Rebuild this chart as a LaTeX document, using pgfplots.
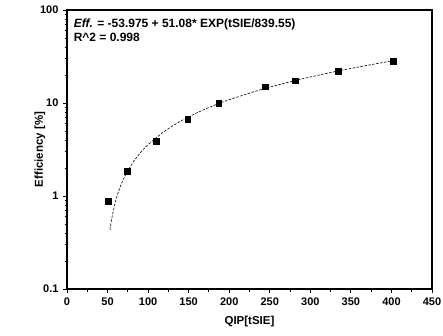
\documentclass[border=0pt]{standalone}
\usepackage{pgfplots}
\pgfplotsset{compat=1.18}
\usepackage{fontspec}
\setmainfont{Liberation Sans}
\begin{document}
\begin{tikzpicture}
\begin{axis}[
  scale only axis,
  width=365pt, height=279pt,
  xmin=0, xmax=450,
  ymode=log, ymin=0.1, ymax=100,
  xtick={0,50,...,450},
  minor x tick num=1,
  ytick={0.1,1,10,100},
  yticklabels={\textbf{0.1},\textbf{1},\textbf{10},\textbf{100}},
  xticklabel={\textbf{\pgfmathprintnumber{\tick}}},
  /pgf/number format/assume math mode=true,
  tick align=outside,
  xtick pos=left, ytick pos=left,
  major tick length=4pt, minor tick length=2.5pt,
  tick style={black, line width=0.9pt},
  axis line style={line width=1.1pt},
  ticklabel style={font=\fontsize{11}{13}\selectfont},
  yticklabel style={xshift=-1pt},
  xticklabel style={yshift=-1pt},
  xlabel={\textbf{QIP[tSIE]}},
  ylabel={\textbf{Efficiency [\%]}},
  label style={font=\fontsize{11.5}{13}\selectfont},
  xlabel style={at={(axis description cs:0.5,0)}, anchor=center, yshift=-33pt},
  ylabel style={at={(axis description cs:0,0.5)}, anchor=center, yshift=27pt},
]
\addplot[black, dash pattern=on 2.5pt off 1.5pt, line width=0.6pt, smooth] coordinates {
(53,0.434) (55,0.563) (60,0.889) (65,1.217) (70,1.547) (80,2.212) (90,2.885)
(100,3.566) (120,4.954) (140,6.374) (160,7.829) (180,9.319) (200,10.845)
(240,14.008) (280,17.326) (320,20.805) (360,24.454) (402,28.478)
};
\addplot[only marks, mark=square*, mark size=2.8pt, black] coordinates {
(51,0.88) (74,1.85) (110,3.9) (149,6.7) (187,9.9) (244,15.0) (281,17.4) (334,22.0) (402,28.0)
};
\node[anchor=north west, font=\fontsize{12}{14.5}\selectfont\bfseries, align=left, inner sep=0pt]
  at (rel axis cs:0.018,0.97) {\textit{Eff.} = -53.975 + 51.08* EXP(tSIE/839.55)\\R\^{}2 = 0.998};
\end{axis}
\pgfresetboundingbox
\path (current axis.south west) ++(-67pt,-46pt) rectangle ([xshift=11pt,yshift=10pt]current axis.north east);
\end{tikzpicture}
\end{document}
